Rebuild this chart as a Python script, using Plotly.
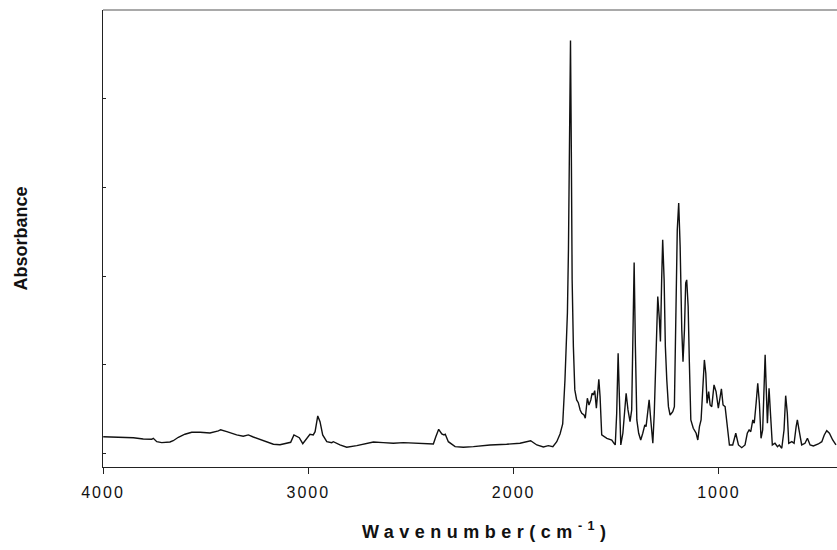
import plotly.graph_objects as go

# IR spectrum (wavenumber in cm^-1, absorbance in arbitrary units)
wavenumber = [
    3999, 3917, 3852, 3804, 3763, 3755, 3738, 3714, 3674, 3658, 3633, 3601, 3568, 3527,
    3479, 3438, 3427, 3397, 3349, 3317, 3292, 3268, 3219, 3170, 3138, 3097, 3086, 3070,
    3056, 3044, 3027, 3008, 2992, 2976, 2967, 2954, 2943, 2930, 2910, 2886, 2878, 2846,
    2813, 2764, 2715, 2683, 2635, 2586, 2537, 2472, 2391, 2379, 2365, 2350, 2339, 2333,
    2318, 2285, 2245, 2196, 2115, 2034, 1969, 1917, 1887, 1855, 1831, 1809, 1790, 1774,
    1761, 1750, 1738, 1733, 1728, 1723, 1719, 1715, 1709, 1702, 1693, 1685, 1676, 1668,
    1657, 1651, 1641, 1633, 1624, 1618, 1612, 1605, 1597, 1585, 1579, 1571, 1546, 1522,
    1511, 1505, 1498, 1491, 1485, 1478, 1468, 1461, 1452, 1443, 1433, 1425, 1420, 1413,
    1407, 1400, 1391, 1381, 1371, 1361, 1355, 1347, 1340, 1332, 1322, 1315, 1306, 1298,
    1290, 1285, 1279, 1274, 1267, 1261, 1254, 1246, 1238, 1225, 1217, 1209, 1203, 1196,
    1189, 1181, 1175, 1168, 1162, 1157, 1150, 1144, 1137, 1125, 1111, 1103, 1095, 1087,
    1079, 1071, 1064, 1058, 1050, 1043, 1035, 1024, 1014, 1003, 988, 980, 970, 962,
    949, 933, 918, 905, 889, 873, 862, 853, 845, 835, 828, 819, 811, 803,
    795, 787, 775, 764, 756, 748, 740, 727, 715, 706, 694, 683, 675, 667,
    660, 645, 634, 624, 618, 610, 597, 581, 569, 556, 540, 516, 499, 487,
    475, 462, 446, 430,
]
absorbance = [
    0.0188, 0.0182, 0.0177, 0.0163, 0.0159, 0.0170, 0.0132, 0.0121, 0.0129, 0.0143, 0.0182, 0.0216, 0.0238, 0.0238,
    0.0230, 0.0253, 0.0267, 0.0245, 0.0208, 0.0193, 0.0208, 0.0185, 0.0140, 0.0103, 0.0098, 0.0121, 0.0125, 0.0208,
    0.0188, 0.0177, 0.0109, 0.0170, 0.0216, 0.0208, 0.0245, 0.0422, 0.0358, 0.0208, 0.0132, 0.0121, 0.0132, 0.0095,
    0.0069, 0.0087, 0.0114, 0.0129, 0.0121, 0.0114, 0.0121, 0.0114, 0.0106, 0.0188, 0.0272, 0.0219, 0.0208, 0.0216,
    0.0132, 0.0076, 0.0069, 0.0076, 0.0095, 0.0103, 0.0114, 0.0143, 0.0095, 0.0072, 0.0087, 0.0076, 0.0132, 0.0219,
    0.0332, 0.0828, 0.1585, 0.2296, 0.3763, 0.4655, 0.3424, 0.1957, 0.1204, 0.0716, 0.0603, 0.0572, 0.0490, 0.0453,
    0.0433, 0.0396, 0.0622, 0.0546, 0.0603, 0.0678, 0.0659, 0.0708, 0.0509, 0.0836, 0.0640, 0.0208, 0.0170, 0.0151,
    0.0114, 0.0095, 0.0453, 0.1130, 0.0640, 0.0095, 0.0227, 0.0453, 0.0678, 0.0490, 0.0358, 0.0490, 0.1204, 0.2152,
    0.1204, 0.0377, 0.0227, 0.0151, 0.0227, 0.0321, 0.0301, 0.0453, 0.0603, 0.0377, 0.0114, 0.0453, 0.1091, 0.1769,
    0.1506, 0.1261, 0.1957, 0.2409, 0.1957, 0.1204, 0.0828, 0.0527, 0.0433, 0.0471, 0.0527, 0.1581, 0.2521, 0.2823,
    0.2333, 0.1393, 0.1035, 0.1393, 0.1920, 0.1957, 0.1656, 0.1017, 0.0377, 0.0283, 0.0227, 0.0151, 0.0301, 0.0377,
    0.0791, 0.1054, 0.0904, 0.0565, 0.0696, 0.0546, 0.0527, 0.0772, 0.0696, 0.0509, 0.0727, 0.0546, 0.0527, 0.0340,
    0.0095, 0.0095, 0.0227, 0.0095, 0.0064, 0.0095, 0.0227, 0.0264, 0.0245, 0.0377, 0.0340, 0.0565, 0.0791, 0.0565,
    0.0170, 0.0264, 0.1111, 0.0340, 0.0735, 0.0414, 0.0095, 0.0114, 0.0076, 0.0095, 0.0058, 0.0264, 0.0651, 0.0453,
    0.0114, 0.0132, 0.0114, 0.0301, 0.0377, 0.0264, 0.0095, 0.0114, 0.0170, 0.0095, 0.0084, 0.0106, 0.0132, 0.0208,
    0.0256, 0.0227, 0.0151, 0.0095,
]

x_tick_values = [4000, 3000, 2000, 1000]
x_tick_labels = ["4000", "3000", "2000", "1000"]

FONT = "Liberation Sans, Arial, sans-serif"
AXIS_COLOR = "#222222"

fig = go.Figure(
    go.Scatter(
        x=wavenumber,
        y=absorbance,
        mode="lines",
        line=dict(color="#111111", width=1.4),
        hoverinfo="skip",
    )
)

fig.update_layout(
    width=837,
    height=550,
    margin=dict(l=103, r=0, t=10, b=83),
    paper_bgcolor="white",
    plot_bgcolor="white",
    showlegend=False,
    font=dict(family=FONT, color="#111111"),
    xaxis=dict(
        range=[4000, 425],
        showgrid=False,
        zeroline=False,
        showline=True,
        linecolor=AXIS_COLOR,
        linewidth=1,
        ticks="outside",
        ticklen=6,
        tickwidth=1,
        tickcolor=AXIS_COLOR,
        tickvals=x_tick_values,
        ticktext=['<span style="letter-spacing:2px">' + t + "</span>" for t in x_tick_labels],
        tickfont=dict(family=FONT, size=16, color="#111111"),
        ticklabelstandoff=5,
    ),
    yaxis=dict(
        range=[-0.01535, 0.5],
        showgrid=False,
        zeroline=False,
        showline=True,
        linecolor=AXIS_COLOR,
        linewidth=1,
        ticks="inside",
        ticklen=3,
        tickwidth=1,
        tickcolor=AXIS_COLOR,
        tick0=0,
        dtick=0.1,
        showticklabels=False,
    ),
    shapes=[
        dict(type="line", xref="paper", yref="paper", x0=0, x1=1, y0=1, y1=1,
             line=dict(color="#555555", width=1.2)),
    ],
    annotations=[
        dict(
            text="<b>Absorbance</b>",
            xref="paper", yref="paper",
            x=-0.113, y=0.5,
            xanchor="center", yanchor="middle",
            textangle=-90,
            showarrow=False,
            font=dict(family=FONT, size=18, color="#111111"),
        ),
        dict(
            text='<b><span style="letter-spacing:5.5px">Wavenumber(cm<sup>-1</sup>)</span></b>',
            xref="paper", yref="paper",
            x=0.523, y=-0.14,
            xanchor="center", yanchor="middle",
            showarrow=False,
            font=dict(family=FONT, size=18, color="#111111"),
        ),
    ],
)

fig.write_html("out.html")
